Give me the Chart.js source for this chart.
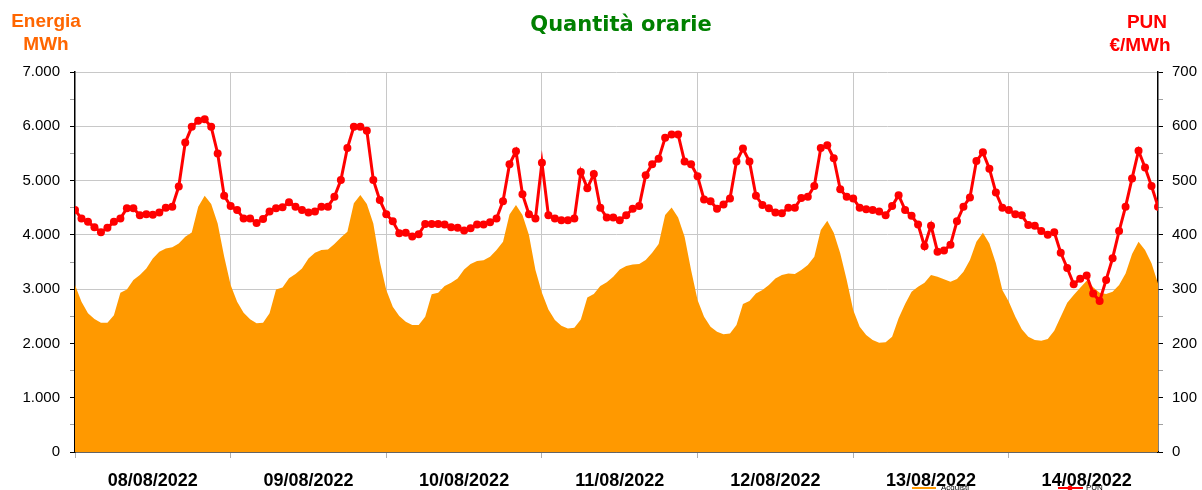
<!DOCTYPE html>
<html>
<head>
<meta charset="utf-8">
<script src="https://cdn.jsdelivr.net/npm/chart.js@4/dist/chart.umd.min.js"></script>
<style>
html,body{margin:0;padding:0;background:#fff;}
#wrap{width:1202px;height:490px;}
</style>
</head>
<body>
<div id="wrap"><canvas id="c" width="1202" height="490"></canvas></div>
<script>
const dayLabels = ["08/08/2022","09/08/2022","10/08/2022","11/08/2022","12/08/2022","13/08/2022","14/08/2022"];

const energia = [
3075,2770,2555,2450,2380,2380,2520,2935,2995,3170,3260,3380,3565,3690,3750,3770,3840,3965,4045,4520,4720,4570,4210,3600,
3075,2770,2565,2445,2370,2380,2555,2995,3030,3200,3280,3380,3565,3670,3720,3730,3830,3950,4058,4580,4733,4567,4211,3505,
2983,2676,2505,2400,2339,2339,2492,2904,2934,3057,3119,3198,3364,3462,3517,3530,3597,3720,3874,4377,4549,4365,3996,3352,
2934,2627,2431,2327,2277,2290,2443,2848,2910,3060,3128,3229,3364,3425,3456,3462,3536,3671,3831,4365,4506,4322,3966,3352,
2799,2492,2308,2216,2167,2185,2339,2726,2781,2922,2983,3075,3198,3260,3290,3278,3352,3444,3597,4088,4260,4039,3659,3168,
2615,2308,2155,2063,2014,2020,2124,2462,2726,2953,3045,3119,3260,3229,3180,3137,3186,3321,3536,3874,4039,3843,3475,2983,
2769,2492,2259,2124,2063,2050,2081,2234,2492,2750,2891,3026,3155,3033,2934,2910,2953,3075,3290,3646,3874,3720,3475,3106
];

const pun = [
446,430,424,414,405,413,424,430,449,449,436,438,437,441,450,452,489,570,599,610,613,599,550,472,
453,446,430,430,422,429,443,449,451,460,452,446,441,443,452,452,470,501,560,599,599,592,501,464,
438,425,403,404,397,401,420,420,420,419,414,413,408,412,419,419,423,430,462,530,554,475,438,430,
533,436,430,427,427,430,516,486,512,450,432,432,427,436,448,453,510,530,540,579,585,585,535,530,
508,465,462,448,456,467,535,559,535,472,455,449,441,440,450,450,468,470,490,560,565,541,484,470,
467,450,447,446,443,436,453,473,446,435,419,379,417,369,371,382,425,452,469,536,552,522,478,450,
446,438,436,418,417,407,400,405,367,339,309,319,325,292,278,317,357,407,452,504,555,524,490,452
];

const leftTicks = [0,1000,2000,3000,4000,5000,6000,7000];
const rightTicks = [0,100,200,300,400,500,600,700];

const GRID = '#c8c8c8';
function fmtIt(v){ return String(v).replace(/\B(?=(\d{3})+(?!\d))/g, '.'); }

const textPlugin = {
  id: 'texts',
  afterDraw(chart){
    const ctx = chart.ctx;
    ctx.save();
    ctx.textAlign = 'center';
    ctx.textBaseline = 'alphabetic';
    ctx.fillStyle = '#008000';
    ctx.font = 'bold 21px "DejaVu Sans", Verdana, sans-serif';
    ctx.fillText('Quantità orarie', 621, 31);
    ctx.fillStyle = '#FF6600';
    ctx.font = 'bold 19px "Liberation Sans", Arial, sans-serif';
    ctx.fillText('Energia', 46, 27);
    ctx.fillText('MWh', 46, 50);
    ctx.fillStyle = '#FF0000';
    ctx.fillText('PUN', 1147, 28);
    ctx.fillText('€/MWh', 1140, 51);
    // clipped legend at bottom
    ctx.lineWidth = 2;
    ctx.strokeStyle = '#FF9900';
    ctx.beginPath(); ctx.moveTo(912, 488); ctx.lineTo(936, 488); ctx.stroke();
    ctx.strokeStyle = '#FF0000';
    ctx.beginPath(); ctx.moveTo(1058, 488); ctx.lineTo(1083, 488); ctx.stroke();
    ctx.fillStyle = '#FF0000';
    ctx.beginPath(); ctx.arc(1070, 488, 2.5, 0, Math.PI*2); ctx.fill();
    ctx.fillStyle = '#000';
    ctx.font = '8px "Liberation Sans", Arial, sans-serif';
    ctx.textAlign = 'left';
    ctx.textBaseline = 'top';
    ctx.fillText('Acquisti', 941, 484);
    ctx.fillText('PUN', 1086, 484);
    ctx.restore();
  }
};

new Chart(document.getElementById('c'), {
  type: 'line',
  data: {
    datasets: [
      {
        label: 'PUN',
        data: pun.map((v,i)=>({x:i, y:v})),
        yAxisID: 'y2',
        borderColor: '#FF0000',
        backgroundColor: '#FF0000',
        borderWidth: 3,
        pointRadius: 4,
        pointBorderWidth: 0,
        pointBackgroundColor: '#FF0000',
        tension: 0,
        fill: false,
        order: 0
      },
      {
        label: 'Acquisti',
        data: energia.map((v,i)=>({x:i, y:v})),
        yAxisID: 'y',
        borderColor: '#FF9900',
        backgroundColor: '#FF9900',
        borderWidth: 0,
        pointRadius: 0,
        tension: 0,
        fill: 'origin',
        order: 1
      }
    ]
  },
  options: {
    responsive: false,
    devicePixelRatio: 1,
    animation: false,
    layout: { padding: { top: 72, left: 0, right: 0, bottom: 0 } },
    plugins: { legend: { display: false }, tooltip: { enabled: false }, title: { display: false } },
    scales: {
      x: {
        type: 'linear',
        min: 0,
        max: pun.length - 1,
        afterBuildTicks(scale){
          const t = [];
          for (let v = 0; v < pun.length; v += 12) t.push({value: v});
          scale.ticks = t;
        },
        afterFit(scale){ scale.height = 38; },
        grid: {
          color: (c) => (c.tick && c.tick.value % 24 === 0 && c.tick.value > 0) ? GRID : 'rgba(0,0,0,0)',
          tickColor: (c) => (c.tick && c.tick.value % 24 === 0) ? '#b0b0b0' : 'rgba(0,0,0,0)',
          tickLength: 6,
          lineWidth: 1
        },
        border: { color: '#000', width: 1.5 },
        ticks: {
          autoSkip: false,
          maxRotation: 0,
          padding: 12,
          color: '#000',
          font: { family: '"Liberation Sans", Arial, sans-serif', size: 18, weight: 'bold' },
          callback: (v) => (v % 24 === 12) ? dayLabels[(v - 12) / 24] : ''
        }
      },
      y: {
        position: 'left',
        min: 0,
        max: 7000,
        afterBuildTicks(scale){
          const t = [];
          for (let v = 0; v <= 7000; v += 500) t.push({value: v});
          scale.ticks = t;
        },
        afterFit(scale){ scale.width = 75; },
        grid: {
          color: (c) => (c.tick && c.tick.value % 1000 === 0 && leftTicks.includes(c.tick.value)) ? GRID : 'rgba(0,0,0,0)',
          tickColor: (c) => (c.tick && c.tick.value % 1000 === 0) ? '#000' : '#a0a0a0',
          tickLength: 5
        },
        border: { color: '#000', width: 1.5 },
        ticks: {
          padding: 10,
          color: '#000',
          font: { family: '"Liberation Sans", Arial, sans-serif', size: 15 },
          callback: (v) => leftTicks.includes(v) ? fmtIt(v) : ''
        }
      },
      y2: {
        position: 'right',
        min: 0,
        max: 700,
        afterBuildTicks(scale){
          const t = [];
          for (let v = 0; v <= 700; v += 50) t.push({value: v});
          scale.ticks = t;
        },
        afterFit(scale){ scale.width = 44; },
        grid: {
          drawOnChartArea: false,
          tickColor: (c) => (c.tick && c.tick.value % 100 === 0) ? '#000' : '#a0a0a0',
          tickLength: 5
        },
        border: { color: '#000', width: 1.5 },
        ticks: {
          padding: 9,
          color: '#000',
          font: { family: '"Liberation Sans", Arial, sans-serif', size: 15 },
          callback: (v) => rightTicks.includes(v) ? String(v) : ''
        }
      }
    }
  },
  plugins: [textPlugin]
});
</script>
</body>
</html>
